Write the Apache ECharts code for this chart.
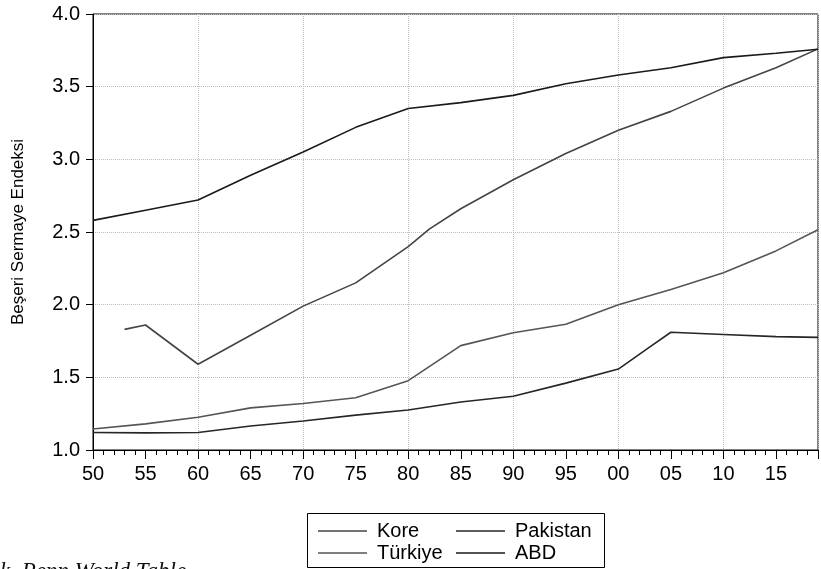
<!DOCTYPE html>
<html><head><meta charset="utf-8">
<script src="https://cdn.jsdelivr.net/npm/echarts@6/dist/echarts.min.js"></script>
<style>html,body{margin:0;padding:0;background:#fff}#c{width:821px;height:569px}</style>
</head><body><div id="c"></div>
<script>
const seriesNames = ['Kore', 'Türkiye', 'Pakistan', 'ABD'];

const koreYears  = [1953, 1955, 1960, 1965, 1970, 1975, 1980, 1982, 1985, 1990, 1995, 2000, 2005, 2010, 2015, 2019];
const koreValues = [1.83, 1.86, 1.59, 1.79, 1.99, 2.15, 2.40, 2.52, 2.66, 2.86, 3.04, 3.20, 3.33, 3.49, 3.63, 3.76];

const turkiyeYears  = [1950, 1955, 1960, 1965, 1970, 1975, 1980, 1985, 1990, 1995, 2000, 2005, 2010, 2015, 2019];
const turkiyeValues = [1.145, 1.18, 1.225, 1.29, 1.32, 1.36, 1.477, 1.718, 1.807, 1.865, 2.00, 2.105, 2.22, 2.37, 2.515];

const pakistanYears  = [1950, 1955, 1960, 1965, 1970, 1975, 1980, 1985, 1990, 1995, 2000, 2003, 2005, 2010, 2015, 2019];
const pakistanValues = [1.12, 1.118, 1.12, 1.165, 1.20, 1.24, 1.275, 1.33, 1.37, 1.46, 1.557, 1.71, 1.81, 1.795, 1.78, 1.775];

const abdYears  = [1950, 1955, 1960, 1965, 1970, 1975, 1980, 1985, 1990, 1995, 2000, 2005, 2010, 2015, 2019];
const abdValues = [2.58, 2.65, 2.72, 2.89, 3.05, 3.22, 3.35, 3.39, 3.44, 3.52, 3.58, 3.63, 3.70, 3.73, 3.757];

const yAxisTitle = 'Beşeri Sermaye Endeksi';
const sourceNote = 'k, Penn World Table';

const seriesYears  = [koreYears, turkiyeYears, pakistanYears, abdYears];
const seriesValues = [koreValues, turkiyeValues, pakistanValues, abdValues];
const seriesColors = ['#444444', '#555555', '#262626', '#1a1a1a'];

const FONT = '"Liberation Sans", Arial, sans-serif';
const chart = echarts.init(document.getElementById('c'), null, {renderer: 'canvas'});

const commonX = {type: 'value', min: 1950, max: 2019, position: 'bottom', gridIndex: 0};

chart.setOption({
  animation: false,
  backgroundColor: '#fff',
  grid: {left: 93, right: 3, top: 14, bottom: 119, show: true, borderColor: '#000', borderWidth: 1, containLabel: false},
  xAxis: [
    Object.assign({}, commonX, {
      interval: 5,
      axisLine: {show: true, lineStyle: {color: '#000', width: 1}},
      axisTick: {show: true, inside: false, length: 9, lineStyle: {color: '#000', width: 1}},
      axisLabel: {
        margin: 14, fontSize: 20, color: '#000', fontFamily: FONT,
        formatter: v => (v % 5 === 0 ? String(v % 100).padStart(2, '0') : '')
      },
      splitLine: {show: false}
    }),
    Object.assign({}, commonX, {
      interval: 1,
      axisLine: {show: false},
      axisTick: {show: true, inside: false, length: 5, lineStyle: {color: '#000', width: 1}},
      axisLabel: {show: false},
      splitLine: {show: false}
    }),
    Object.assign({}, commonX, {
      interval: 10,
      axisLine: {show: false},
      axisTick: {show: false},
      axisLabel: {show: false},
      splitLine: {show: true, lineStyle: {color: '#bdbdbd', type: 'dotted', width: 1}}
    })
  ],
  yAxis: {
    type: 'value', min: 1, max: 4, interval: 0.5,
    name: yAxisTitle, nameLocation: 'middle', nameGap: 66, nameRotate: 90,
    nameTextStyle: {fontSize: 17, color: '#000', fontFamily: FONT},
    axisLine: {show: true, lineStyle: {color: '#000', width: 1}},
    axisTick: {show: true, inside: false, length: 7, lineStyle: {color: '#000'}},
    axisLabel: {margin: 13, fontSize: 20, color: '#000', fontFamily: FONT, formatter: v => v.toFixed(1)},
    splitLine: {show: true, lineStyle: {color: '#bdbdbd', type: 'dotted', width: 1}}
  },
  legend: [
    {
      data: [seriesNames[0], seriesNames[1]], orient: 'vertical', left: 318, top: 520, padding: 0, itemGap: 0,
      icon: 'rect', itemWidth: 49, itemHeight: 1.5,
      textStyle: {fontSize: 20, color: '#000', fontFamily: FONT, lineHeight: 22, padding: [0, 0, 0, 5]}
    },
    {
      data: [seriesNames[2], seriesNames[3]], orient: 'vertical', left: 456, top: 520, padding: 0, itemGap: 0,
      icon: 'rect', itemWidth: 49, itemHeight: 1.5,
      textStyle: {fontSize: 20, color: '#000', fontFamily: FONT, lineHeight: 22, padding: [0, 0, 0, 5]}
    }
  ],
  graphic: [
    {type: 'rect', shape: {x: 307.5, y: 513.5, width: 297, height: 54}, style: {fill: 'none', stroke: '#000', lineWidth: 1}, silent: true},
    {type: 'text', x: 0, y: 560, style: {text: sourceNote, font: 'italic 23px "Liberation Serif", "Times New Roman", serif', fill: '#111', textVerticalAlign: 'top'}, silent: true}
  ],
  series: seriesNames.map((name, i) => ({
    name: name, type: 'line', xAxisIndex: 0, yAxisIndex: 0,
    symbol: 'none', smooth: false,
    lineStyle: {color: seriesColors[i], width: 1.6},
    itemStyle: {color: seriesColors[i]},
    data: seriesYears[i].map((yr, j) => [yr, seriesValues[i][j]])
  }))
});
</script>
</body></html>
